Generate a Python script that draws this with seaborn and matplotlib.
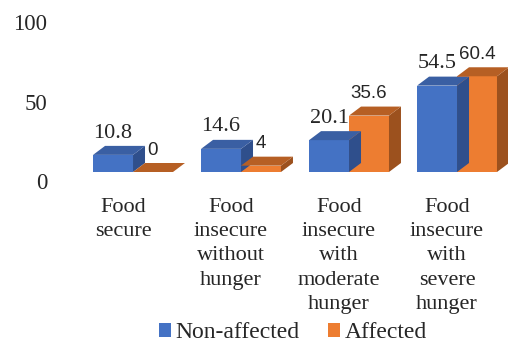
import matplotlib
matplotlib.use("Agg")
import matplotlib.pyplot as plt
from matplotlib.patches import Polygon, Patch
from matplotlib.transforms import ScaledTranslation
import pandas as pd
import seaborn as sns

categories = [
    "Food\nsecure",
    "Food\ninsecure\nwithout\nhunger",
    "Food\ninsecure\nwith\nmoderate\nhunger",
    "Food\ninsecure\nwith\nsevere\nhunger",
]
non_affected = [10.8, 14.6, 20.1, 54.5]
affected = [0, 4, 35.6, 60.4]
groups = ["Non-affected", "Affected"]
yticks = [0, 50, 100]

front_colors = ["#4472C4", "#ED7D31"]
top_colors = ["#3A5FA3", "#B65F24"]
side_colors = ["#2F4F8C", "#9C511E"]

sns.set_style("white")
plt.rcParams["font.family"] = "Liberation Serif"

df = pd.DataFrame({
    "status": categories * 2,
    "pct": non_affected + affected,
    "group": [groups[0]] * 4 + [groups[1]] * 4,
})

W, H, DPI = 508, 346, 100
fig = plt.figure(figsize=(W / DPI, H / DPI), dpi=DPI)
ax_left, ax_right, ax_bottom, ax_top = 60, 508, 172, 13.5
ax = fig.add_axes([ax_left / W, (H - ax_bottom) / H,
                   (ax_right - ax_left) / W, (ax_bottom - ax_top) / H])

sns.barplot(data=df, x="status", y="pct", hue="group", hue_order=groups,
            palette=front_colors, width=0.74, gap=0, ax=ax, legend=False,
            saturation=1, edgecolor="none")

ax.set_xlim(-0.676, 3.472)
ax.set_ylim(0, 100)
ax.set_yticks(yticks)
ax.set_xlabel("")
ax.set_ylabel("")
sns.despine(ax=ax, left=True, bottom=True)
ax.tick_params(length=0)
ax.tick_params(axis="y", labelsize=16.5, pad=9)
ax.tick_params(axis="x", labelsize=16, pad=19)
for lab in ax.get_xticklabels():
    lab.set_linespacing(1.36)
    lab.set_transform(lab.get_transform() + ScaledTranslation(-10 / DPI, 0, fig.dpi_scale_trans))
for lab in ax.get_yticklabels():
    lab.set_transform(lab.get_transform() + ScaledTranslation(0, -9 / DPI, fig.dpi_scale_trans))

# 3D-looking depth, in pixels converted to data units
px_x = (ax_right - ax_left) / (ax.get_xlim()[1] - ax.get_xlim()[0])
px_y = (ax_bottom - ax_top) / (ax.get_ylim()[1] - ax.get_ylim()[0])
dx, dy = 12 / px_x, 9 / px_y

label_fonts = [
    dict(family="Liberation Serif", size=16),
    dict(family="Liberation Sans", size=13.5),
]
for i, cont in enumerate(ax.containers):
    for bar, val in zip(cont.patches, [non_affected, affected][i]):
        x0 = bar.get_x()
        x1 = x0 + bar.get_width()
        h = bar.get_height()
        top = Polygon([(x0, h), (x1, h), (x1 + dx, h + dy), (x0 + dx, h + dy)],
                      closed=True, facecolor=top_colors[i], edgecolor="none",
                      clip_on=False, zorder=bar.get_zorder())
        side = Polygon([(x1, 0), (x1, h), (x1 + dx, h + dy), (x1 + dx, dy)],
                       closed=True, facecolor=side_colors[i], edgecolor="none",
                       clip_on=False, zorder=bar.get_zorder())
        ax.add_patch(side)
        ax.add_patch(top)
        ax.annotate(f"{val:g}", xy=(x0 + bar.get_width() / 2, h),
                    xytext=(0, 12.5), textcoords="offset points",
                    ha="center", va="baseline", annotation_clip=False,
                    **label_fonts[i])

handles = [Patch(facecolor=c, edgecolor="none") for c in front_colors]
fig.legend(handles, groups, loc="center", bbox_to_anchor=(293 / W, 1 - 333 / H),
           ncol=2, frameon=False, fontsize=17, handlelength=0.5,
           handleheight=0.5, handletextpad=0.2, columnspacing=1.2,
           borderaxespad=0, borderpad=0)

fig.savefig("out.png", dpi=DPI)
